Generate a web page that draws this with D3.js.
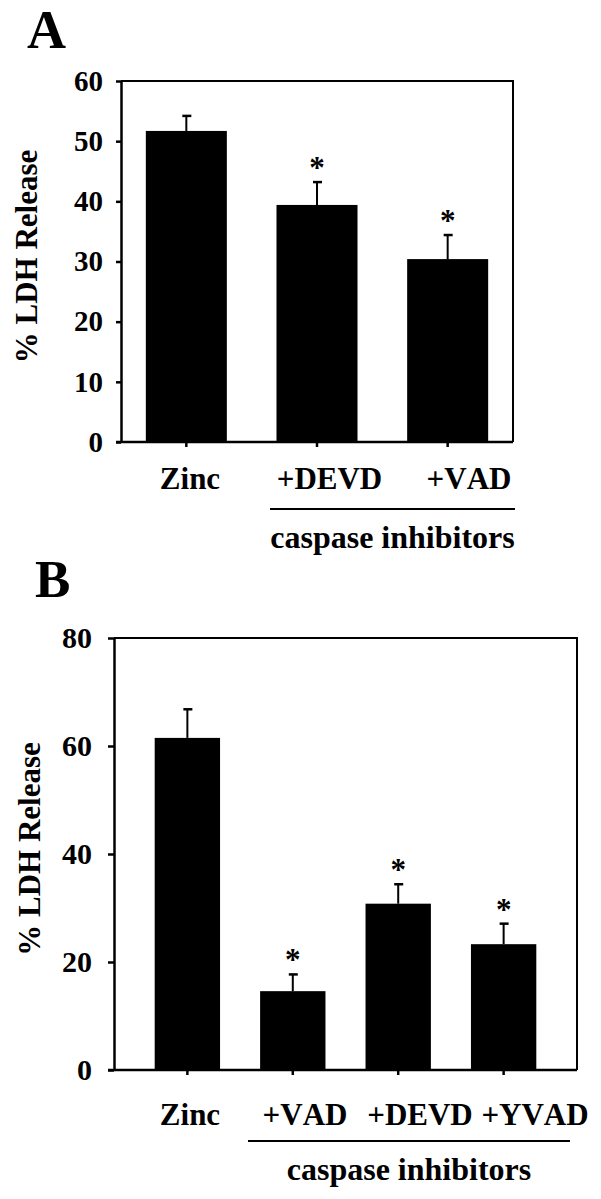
<!DOCTYPE html>
<html>
<head>
<meta charset="utf-8">
<script src="https://cdn.jsdelivr.net/npm/d3@7/dist/d3.min.js"></script>
<style>
  body { margin: 0; background: #fff; }
  text { font-family: "Liberation Serif", "Times New Roman", serif; font-weight: bold; font-kerning: none; }
</style>
</head>
<body>
<div id="chart"></div>
<script>
// panel A data
var aCats = ["Zinc", "+DEVD", "+VAD"];
var aVals = [51.7, 39.4, 30.4];
var aSem = [2.5, 3.8, 4.0];
var aSig = [false, true, true];
var aTicks = [0, 10, 20, 30, 40, 50, 60];

// panel B data
var bCats = ["Zinc", "+VAD", "+DEVD", "+YVAD"];
var bVals = [61.5, 14.6, 30.8, 23.3];
var bSem = [5.3, 3.1, 3.6, 3.8];
var bSig = [false, true, true, true];
var bTicks = [0, 20, 40, 60, 80];

var yTitle = "% LDH Release";
var groupLabel = "caspase inhibitors";

var svg = d3.select("#chart")
  .append("svg")
  .attr("width", 601)
  .attr("height", 1199);

function drawPanel(p) {
  var g = svg.append("g");

  var x = d3.scaleBand()
    .domain(p.cats)
    .range([p.left, p.right])
    .paddingInner(0.38)
    .paddingOuter(p.outer);

  var y = d3.scaleLinear()
    .domain([0, d3.max(p.ticks)])
    .range([p.bottom, p.top]);

  // labels sit a little right of the bars, as in the figure
  var xl = d3.scalePoint()
    .domain(p.cats)
    .range(p.labelRange);

  // panel letter
  g.append("text")
    .attr("x", p.letterX)
    .attr("y", p.letterY)
    .attr("font-size", p.letterSize)
    .text(p.letter);

  // bars
  var data = p.cats.map(function (c, i) {
    return { cat: c, value: p.vals[i], sem: p.sem[i], sig: p.sig[i] };
  });

  g.selectAll(".bar")
    .data(data)
    .enter().append("rect")
    .attr("x", function (d) { return x(d.cat); })
    .attr("width", x.bandwidth())
    .attr("y", function (d) { return y(d.value); })
    .attr("height", function (d) { return y(0) - y(d.value); })
    .attr("fill", "#000");

  // error bars (upper only)
  var cx = function (d) { return x(d.cat) + x.bandwidth() / 2; };
  g.selectAll(".err")
    .data(data)
    .enter().append("line")
    .attr("x1", cx).attr("x2", cx)
    .attr("y1", function (d) { return y(d.value); })
    .attr("y2", function (d) { return y(d.value + d.sem); })
    .attr("stroke", "#000")
    .attr("stroke-width", 2);
  g.selectAll(".cap")
    .data(data)
    .enter().append("line")
    .attr("x1", function (d) { return cx(d) - 4; })
    .attr("x2", function (d) { return cx(d) + 5; })
    .attr("y1", function (d) { return y(d.value + d.sem); })
    .attr("y2", function (d) { return y(d.value + d.sem); })
    .attr("stroke", "#000")
    .attr("stroke-width", 2.5);

  // significance stars
  g.selectAll(".star")
    .data(data.filter(function (d) { return d.sig; }))
    .enter().append("text")
    .attr("x", cx)
    .attr("y", function (d) { return y(d.value + d.sem) - 4; })
    .attr("text-anchor", "middle")
    .attr("font-size", 31)
    .text("*");

  // frame: top and right edges
  g.append("path")
    .attr("d", "M" + p.left + "," + p.top + "H" + p.right + "V" + p.bottom)
    .attr("fill", "none")
    .attr("stroke", "#000")
    .attr("stroke-width", 2);

  // y axis
  var ya = g.append("g")
    .attr("transform", "translate(" + p.left + ",0)")
    .call(d3.axisLeft(y).tickValues(p.ticks).tickSize(p.tick).tickSizeOuter(0).tickPadding(p.tickPad));
  ya.selectAll("path, line").attr("stroke", "#000").attr("stroke-width", 2.5);
  ya.selectAll("text")
    .attr("font-size", p.tickFont)
    .attr("fill", "#000");
  ya.attr("font-family", null).attr("font-size", null);

  // x axis
  var xa = g.append("g")
    .attr("transform", "translate(0," + p.bottom + ")")
    .call(d3.axisBottom(x).tickSize(5).tickSizeOuter(0).tickFormat(""));
  xa.select(".domain").attr("d", "M" + (p.left - p.tick) + ",0H" + p.right);
  xa.selectAll("path, line").attr("stroke", "#000").attr("stroke-width", 2.5);

  // category labels
  g.selectAll(".lab")
    .data(p.cats)
    .enter().append("text")
    .attr("x", function (d) { return xl(d); })
    .attr("y", p.labelY)
    .attr("text-anchor", "middle")
    .attr("font-size", 31)
    .text(function (d) { return d; });

  // bracket under the inhibitor groups
  g.append("line")
    .attr("x1", p.lineX[0]).attr("x2", p.lineX[1])
    .attr("y1", p.lineY).attr("y2", p.lineY)
    .attr("stroke", "#000")
    .attr("stroke-width", 2);
  g.append("text")
    .attr("x", (p.lineX[0] + p.lineX[1]) / 2)
    .attr("y", p.groupY)
    .attr("text-anchor", "middle")
    .attr("font-size", 32)
    .text(groupLabel);

  // y title
  g.append("text")
    .attr("transform", "translate(" + p.titleX + "," + ((p.top + p.bottom) / 2 - 5) + ") rotate(-90)")
    .attr("text-anchor", "middle")
    .attr("font-size", 31)
    .text(yTitle);
}

drawPanel({
  letter: "A", letterX: 27, letterY: 48, letterSize: 54,
  cats: aCats, vals: aVals, sem: aSem, sig: aSig, ticks: aTicks,
  left: 121, right: 513, top: 81, bottom: 442, outer: 0.19,
  tick: 5, tickPad: 13, tickFont: 29,
  labelRange: [190, 469], labelY: 489,
  lineX: [270, 515], lineY: 509, groupY: 548, titleX: 37
});

drawPanel({
  letter: "B", letterX: 35, letterY: 597, letterSize: 53,
  cats: bCats, vals: bVals, sem: bSem, sig: bSig, ticks: bTicks,
  left: 114, right: 577, top: 638, bottom: 1070, outer: 0.386,
  tick: 6, tickPad: 16, tickFont: 30,
  labelRange: [190, 535], labelY: 1125,
  lineX: [248, 570], lineY: 1141, groupY: 1180, titleX: 40
});
</script>
</body>
</html>
